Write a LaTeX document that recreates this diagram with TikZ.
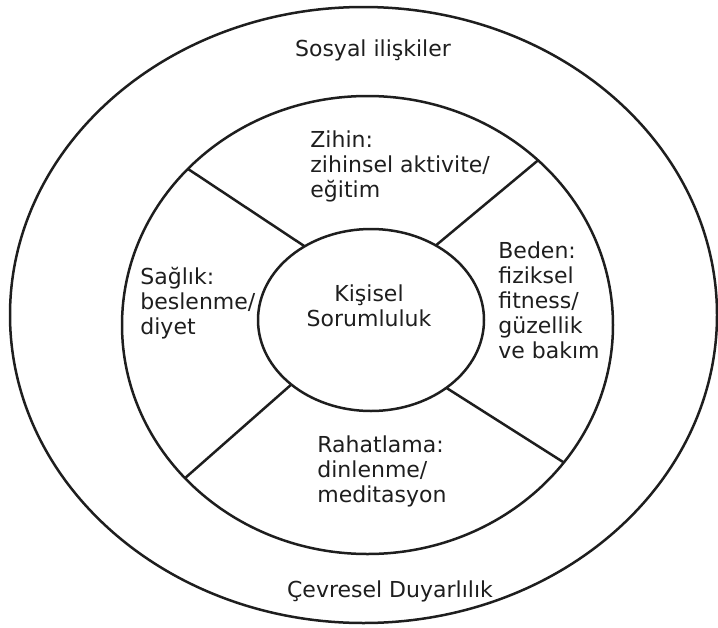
\documentclass[tikz,border=0pt]{standalone}
\usepackage{fontspec}
\setmainfont{DejaVu Sans}
\usetikzlibrary{shapes.geometric}
\definecolor{ink}{HTML}{1E1E1E}
\tikzset{
  ring/.style  ={ellipse, draw=ink, line width=1.25pt, inner sep=0pt, outer sep=0pt},
  spoke/.style ={draw=ink, line width=1.25pt},
  txt/.style   ={font=\fontsize{11}{12.6}\selectfont, text=ink, inner sep=0pt},
  lbl/.style   ={txt, align=left, anchor=base west},
  ttl/.style   ={txt, align=center, anchor=base},
}

\begin{document}
\begin{tikzpicture}[x=0.5pt,y=-0.5pt]
  % picture frame in pixel units of the reference, y running down
  \useasboundingbox (0,0) rectangle (718,627);

  % ---------------- the three rings ------------------------------------------
  \node[ring, minimum width=353.5pt, minimum height=308pt] (outer)  at (363.5,315) {};
  \node[ring, minimum width=245.5pt, minimum height=229pt] (middle) at (367.5,325) {};
  \node[ring, minimum width=113pt,   minimum height=91pt]  (inner)  at (371,320) {};

  % ---------------- spokes between inner and middle ring ---------------------
  \draw[spoke] (inner.132) -- (middle.139);
  \draw[spoke] (inner.49)  -- (middle.44);
  \draw[spoke] (inner.219) -- (middle.220);
  \draw[spoke] (inner.318) -- (middle.325);

  % ---------------- labels (base = last line) --------------------------------
  \node[ttl] (sosyal)  at (373,56)    {Sosyal ilişkiler};
  \node[lbl] (zihin)   at (310,197.4) {Zihin:\\zihinsel aktivite/\\eğitim};
  \node[lbl] (saglik)  at (140,334.4) {Sağlık:\\beslenme/\\diyet};
  \node[ttl] (kisisel) at (369,326.2) {Kişisel\\Sorumluluk};
  \node[lbl] (beden)   at (498,358.8) {Beden:\\fiziksel\\fitness/\\güzellik\\ve bakım};
  \node[lbl] (rahat)   at (317,502.4) {Rahatlama:\\dinlenme/\\meditasyon};
  \node[ttl] (cevre)   at (390,597)   {Çevresel Duyarlılık};
\end{tikzpicture}
\end{document}
